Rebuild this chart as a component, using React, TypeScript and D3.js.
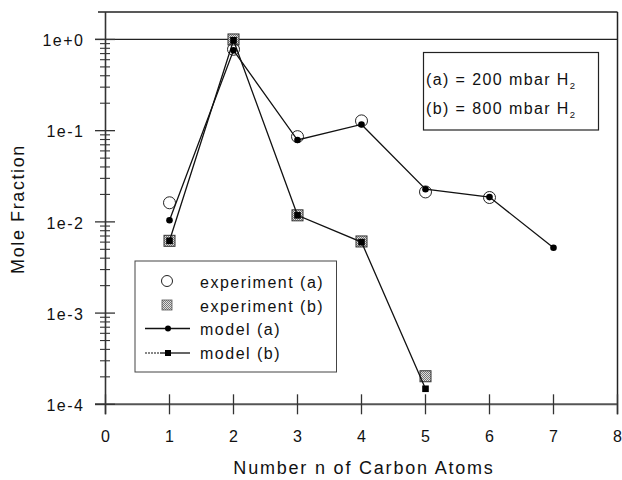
import React from "react";
import * as d3 from "d3";

const carbonAtoms = [1, 2, 3, 4, 5, 6, 7];
const expA = [0.0162, 0.78, 0.086, 0.128, 0.0213, 0.0185];
const modelA = [0.0104, 0.76, 0.079, 0.117, 0.0228, 0.0187, 0.0052];
const expB = [0.0062, 1.0, 0.0118, 0.0061, 0.000203];
const modelB = [0.0062, 0.98, 0.0118, 0.006, 0.000148];
const xTicks = [0, 1, 2, 3, 4, 5, 6, 7, 8];
const yMajor = [1e0, 1e-1, 1e-2, 1e-3, 1e-4];
const yLabels = ["1e+0", "1e-1", "1e-2", "1e-3", "1e-4"];
const legendLabels = ["experiment (a)", "experiment (b)", "model (a)", "model (b)"];

const W = 622, H = 480;
const FONT = "'Liberation Sans', Arial, sans-serif";

export default function App() {
  const x = d3.scaleLinear().domain([0, 8]).range([105.5, 617.5]);
  const y = d3.scaleLog().domain([1e-4, 2]).range([404.3, 12]);
  const ptsA = expA.map((v, i) => [carbonAtoms[i], v] as [number, number]);
  const ptsMA = modelA.map((v, i) => [carbonAtoms[i], v] as [number, number]);
  const ptsB = expB.map((v, i) => [carbonAtoms[i], v] as [number, number]);
  const ptsMB = modelB.map((v, i) => [carbonAtoms[i], v] as [number, number]);
  const line = d3.line<[number, number]>().x(d => x(d[0])).y(d => y(d[1]));

  const minor: number[] = [];
  for (let e = -4; e < 0; e++) for (let m = 2; m <= 9; m++) minor.push(m * Math.pow(10, e));

  const x0 = x(0), x8 = x(8), yb = y(1e-4), yt = 12;
  const ax = "#333";

  return (
    <svg width={W} height={H} style={{ position: "absolute", left: 0, top: 0, background: "#fff" }} fontFamily={FONT}>
      <defs>
        <pattern id="hatch" width="2" height="2" patternUnits="userSpaceOnUse">
          <rect width="2" height="2" fill="#e0e0e0" />
          <rect width="1" height="1" fill="#777" />
          <rect x="1" y="1" width="1" height="1" fill="#777" />
        </pattern>
      </defs>
      <rect width={W} height={H} fill="#fff" />
      {/* frame */}
      <line x1={98} x2={x8} y1={yt} y2={yt} stroke="#222" strokeWidth={1.3} />
      <line x1={x8} x2={x8} y1={yt} y2={yb + 10} stroke="#222" strokeWidth={1.5} />
      <line x1={95} x2={x8} y1={y(1)} y2={y(1)} stroke="#222" strokeWidth={1.3} />
      <line x1={x0} x2={x0} y1={yt} y2={yb + 10} stroke={ax} strokeWidth={1.6} />
      <line x1={95} x2={x8} y1={yb} y2={yb} stroke="#555" strokeWidth={2} />
      {/* y ticks */}
      {yMajor.map((v, i) => (
        <g key={"ym" + i}>
          <line x1={95} x2={115} y1={y(v)} y2={y(v)} stroke={ax} strokeWidth={1.3} />
          <text x={84.5} y={y(v)} dy="0.42em" textAnchor="end" fontSize={16} fill="#111" letterSpacing={1.5}>{yLabels[i]}</text>
        </g>
      ))}
      {minor.map((v, i) => (
        <line key={"mn" + i} x1={100} x2={110} y1={y(v)} y2={y(v)} stroke={ax} strokeWidth={1.1} />
      ))}
      {/* x ticks */}
      {xTicks.map(t => (
        <g key={"xt" + t}>
          <line x1={x(t)} x2={x(t)} y1={yb - 10} y2={yb + 10} stroke={ax} strokeWidth={1.3} />
          <text x={x(t)} y={441.5} textAnchor="middle" fontSize={16} fill="#111">{t}</text>
        </g>
      ))}
      <text x={364} y={474} textAnchor="middle" fontSize={18} fill="#111" letterSpacing={1.8}>Number n of Carbon Atoms</text>
      <text transform={`translate(24,${209}) rotate(-90)`} textAnchor="middle" fontSize={18} fill="#111" letterSpacing={1.6}>Mole Fraction</text>

      {/* experiment (b) squares */}
      {ptsB.map((d, i) => (
        <rect key={"eb" + i} x={x(d[0]) - 5.5} y={y(d[1]) - 5.5} width={11} height={11} fill="url(#hatch)" stroke="#333" strokeWidth={1} />
      ))}
      {/* experiment (a) circles */}
      {ptsA.map((d, i) => (
        <circle key={"ea" + i} cx={x(d[0])} cy={y(d[1])} r={6} fill="none" stroke="#222" strokeWidth={1} />
      ))}
      {/* model lines */}
      <path d={line(ptsMB) || ""} fill="none" stroke="#111" strokeWidth={1.3} />
      <path d={line(ptsMA) || ""} fill="none" stroke="#111" strokeWidth={1.3} />
      {ptsMA.map((d, i) => (
        <circle key={"ma" + i} cx={x(d[0])} cy={y(d[1])} r={3.3} fill="#000" />
      ))}
      {ptsMB.map((d, i) => (
        <rect key={"mb" + i} x={x(d[0]) - 3.3} y={y(d[1]) - 3.3} width={6.6} height={6.6} fill="#000" />
      ))}

      {/* legend */}
      <g>
        <rect x={135} y={261} width={201.5} height={111} fill="#fff" stroke="#444" strokeWidth={1} />
        <circle cx={167} cy={281} r={5.5} fill="none" stroke="#222" strokeWidth={1} />
        <rect x={162} y={300} width={10} height={10} fill="url(#hatch)" stroke="#555" strokeWidth={0.8} />
        <line x1={145} x2={190} y1={328.5} y2={328.5} stroke="#111" strokeWidth={1.3} />
        <circle cx={168} cy={328.5} r={3} fill="#000" />
        <line x1={145} x2={160} y1={353} y2={353} stroke="#111" strokeWidth={1.2} strokeDasharray="2,1" />
        <line x1={160} x2={190} y1={353} y2={353} stroke="#111" strokeWidth={1.3} />
        <rect x={165} y={350} width={6} height={6} fill="#000" />
        {legendLabels.map((s, i) => (
          <text key={s} x={200} y={[282, 306, 329, 353][i]} dy="0.35em" fontSize={16} fill="#111" letterSpacing={1.5}>{s}</text>
        ))}
      </g>

      {/* condition box */}
      <g>
        <rect x={423.5} y={52.5} width={175} height={77.5} fill="#fff" stroke="#222" strokeWidth={1.2} />
        <text x={426} y={85} fontSize={16} fill="#111" letterSpacing={1.4}>(a) = 200 mbar H<tspan fontSize={9.5} dy={4}>2</tspan></text>
        <text x={426} y={113.5} fontSize={16} fill="#111" letterSpacing={1.4}>(b) = 800 mbar H<tspan fontSize={9.5} dy={4}>2</tspan></text>
      </g>
    </svg>
  );
}
